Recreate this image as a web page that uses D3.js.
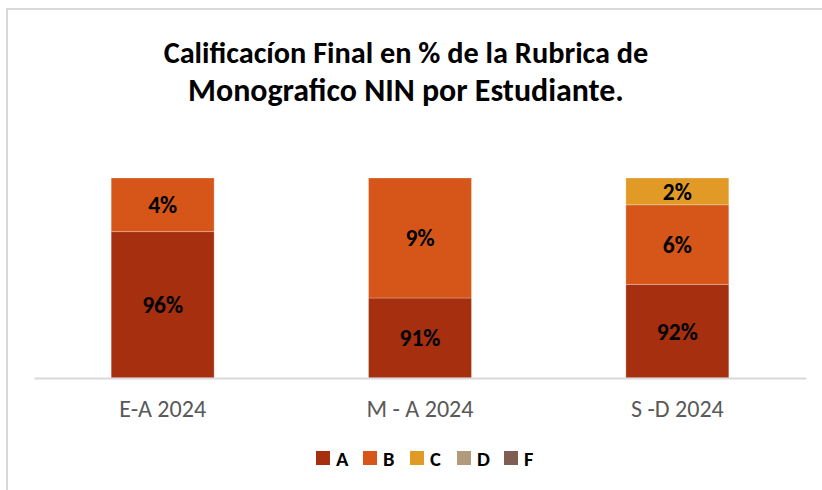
<!DOCTYPE html>
<html><head><meta charset="utf-8">
<script src="https://cdn.jsdelivr.net/npm/d3@7"></script>
<style>body{margin:0;background:#fff}svg{display:block}</style>
</head><body>
<svg id="c" width="822" height="490"></svg>
<script>
const categories = ["E-A 2024", "M - A 2024", "S -D 2024"];
const seriesNames = ["A", "B", "C", "D", "F"];
// segment heights as drawn (share of the 100% column)
const valuesA = [73.2, 40.0, 46.8];
const valuesB = [26.8, 60.0, 39.8];
const valuesC = [0, 0, 13.4];
const valuesD = [0, 0, 0];
const valuesF = [0, 0, 0];
// data labels printed on the segments
const labelsA = ["96%", "91%", "92%"];
const labelsB = ["4%", "9%", "6%"];
const labelsC = ["", "", "2%"];
const colors = ["#A52F0F", "#D6561A", "#E29A27", "#B29B7C", "#7F5E52"];

const svg = d3.select("#c");
const font = "Carlito, Calibri, Lato, sans-serif";

function fitSize(text, weight, target) {
  const t = svg.append("text").attr("font-family", font).attr("font-weight", weight)
    .attr("font-size", 20).text(text);
  const w = t.node().getComputedTextLength();
  t.remove();
  return 20 * target / w;
}

svg.append("rect").attr("x", 7).attr("y", 9).attr("width", 830).attr("height", 500)
  .attr("fill", "#fff").attr("stroke", "#d9d9d9").attr("stroke-width", 2);

const title = ["Calificacíon Final en % de la Rubrica de", "Monografico NIN por Estudiante."];
const titleW = [485, 436];
title.forEach((t, i) => {
  svg.append("text").attr("x", 406).attr("y", 63 + i * 38)
    .attr("text-anchor", "middle").attr("font-family", font).attr("font-weight", "bold")
    .attr("font-size", fitSize(t, "bold", titleW[i])).attr("fill", "#000").text(t);
});

const x = d3.scaleBand().domain(categories).range([34, 806]).paddingInner(0.6).paddingOuter(0.3);
const y = d3.scaleLinear().domain([0, 100]).range([378, 178]);

const rows = categories.map((c, i) => ({cat: c, A: valuesA[i], B: valuesB[i], C: valuesC[i], D: valuesD[i], F: valuesF[i]}));
const labels = {A: labelsA, B: labelsB, C: labelsC};
const stack = d3.stack().keys(seriesNames)(rows);
const labelSize = fitSize("96%", "bold", 41);

stack.forEach((layer, li) => {
  layer.forEach((d, i) => {
    if (d[1] - d[0] <= 0) return;
    svg.append("rect").attr("x", x(categories[i])).attr("width", x.bandwidth())
      .attr("y", y(d[1])).attr("height", y(d[0]) - y(d[1]))
      .attr("fill", colors[li]).attr("stroke", "rgba(255,255,255,0.25)").attr("stroke-width", 1);
    const lab = labels[layer.key] ? labels[layer.key][i] : "";
    if (lab) {
      svg.append("text").attr("x", x(categories[i]) + x.bandwidth() / 2)
        .attr("y", (y(d[0]) + y(d[1])) / 2).attr("dy", "0.36em")
        .attr("text-anchor", "middle").attr("font-family", font).attr("font-weight", "bold")
        .attr("font-size", labelSize).attr("fill", "#000").text(lab);
    }
  });
});

const axisSize = fitSize("M - A 2024", "normal", 107);
const axis = svg.append("g").attr("transform", "translate(0,378)")
  .call(d3.axisBottom(x).tickSize(0).tickPadding(0));
axis.select(".domain").attr("stroke", "#d9d9d9").attr("stroke-width", 2);
axis.selectAll("text").attr("font-family", font).attr("font-size", axisSize).attr("fill", "#595959")
  .attr("y", 39).attr("dy", 0);

const leg = svg.append("g");
seriesNames.forEach((s, i) => {
  const lx = 316 + i * 47;
  leg.append("rect").attr("x", lx).attr("y", 451).attr("width", 14).attr("height", 14).attr("fill", colors[i]);
  leg.append("text").attr("x", lx + 20).attr("y", 465.5)
    .attr("font-family", font).attr("font-weight", "bold").attr("font-size", 20.5).attr("fill", "#000").text(s);
});
</script>
</body></html>
